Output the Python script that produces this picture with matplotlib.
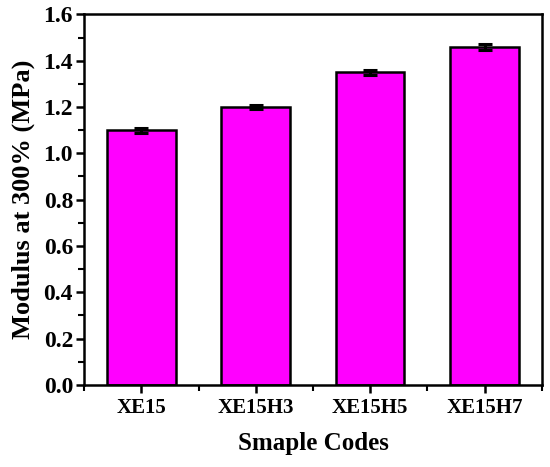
import matplotlib
matplotlib.use("Agg")
import matplotlib.pyplot as plt
from matplotlib.ticker import MultipleLocator, AutoMinorLocator

codes = ["XE15", "XE15H3", "XE15H5", "XE15H7"]
modulus = [1.10, 1.20, 1.35, 1.46]
err = [0.010, 0.010, 0.012, 0.013]

plt.rcParams["font.family"] = ["Liberation Serif", "DejaVu Serif"]
plt.rcParams["font.weight"] = "bold"

fig = plt.figure(figsize=(5.5, 4.67), dpi=100)
ax = fig.add_axes([0.153, 0.176, 0.832, 0.793])
x = range(len(codes))
ax.bar(x, modulus, width=0.6, color="#FF00FF", edgecolor="black", linewidth=1.8,
       yerr=err, capsize=5, error_kw=dict(elinewidth=2.2, capthick=2.2, ecolor="black"))
ax.set_xlim(-0.5, 3.5); ax.set_ylim(0, 1.6)
ax.set_xticks(list(x)); ax.set_xticklabels(codes, fontsize=15, fontweight="bold")
ax.xaxis.set_minor_locator(MultipleLocator(1, offset=0.5))
ax.yaxis.set_major_locator(MultipleLocator(0.2)); ax.yaxis.set_minor_locator(AutoMinorLocator(2))
ax.tick_params(axis="y", labelsize=17, pad=2)
for lbl in ax.get_yticklabels():
    lbl.set_fontweight("bold")
ax.tick_params(which="major", direction="out", length=6, width=1.8)
ax.tick_params(which="minor", direction="out", length=4, width=1.5)
for s in ax.spines.values():
    s.set_linewidth(1.8)
ax.set_xlabel("Smaple Codes", fontsize=18, fontweight="bold", labelpad=10)
ax.set_ylabel("Modulus at 300% (MPa)", fontsize=19, fontweight="bold", labelpad=6)
fig.savefig("out.png", dpi=100)
